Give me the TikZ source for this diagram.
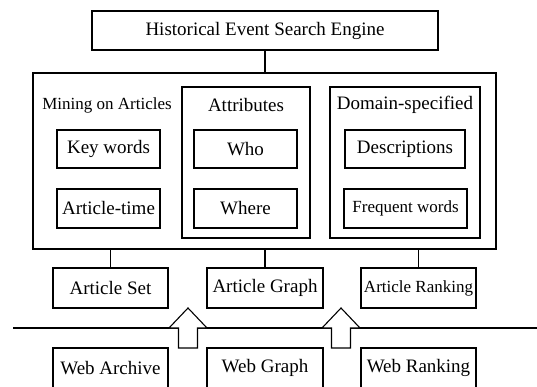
\documentclass[tikz,border=0pt]{standalone}
\usepackage{fontspec}
\setmainfont{Liberation Serif}
\usepackage{tikz}
\usetikzlibrary{calc}

\begin{document}
\begin{tikzpicture}[x=1pt, y=-1pt, line width=1.1pt,
		box/.style={draw, rectangle, inner sep=0pt, font=\fontsize{19}{22}\selectfont},
		smallbox/.style={box, font=\fontsize{17}{20}\selectfont},
		label/.style={inner sep=0pt, font=\fontsize{19}{22}\selectfont}]
			% \draw[very thin, gray, dashed](0, 0)grid[step=20](537, 387);
			\useasboundingbox (0, 0) rectangle (537, 387);
			\clip (0, 0) rectangle (537, 387);

			\node[box, minimum width=346, minimum height=39] (engine) at (265, 30.5) {Historical Event Search Engine};

			\node[draw, rectangle, minimum width=463, minimum height=176] (outer) at (264.5, 161) {};
			\node[draw, rectangle, minimum width=128, minimum height=151] (attr) at (246, 162.5) {};
			\node[draw, rectangle, minimum width=150, minimum height=151] (domain) at (405, 162.5) {};

			\node[label, font=\fontsize{17}{20}\selectfont] (mining) at (107, 105) {Mining on Articles};
			\node[label] (attrlabel) at (246, 105) {Attributes};
			\node[label] (domainlabel) at (405, 105) {Domain-specified};

			\node[box, minimum width=103, minimum height=38] (keywords) at (108.5, 149) {Key words};
			\node[box, minimum width=103, minimum height=38] (who) at (245.5, 149) {Who};
			\node[box, minimum width=120, minimum height=38] (descr) at (405, 149) {Descriptions};
			\node[box, minimum width=103, minimum height=39] (arttime) at (108.5, 208.5) {Article-time};
			\node[box, minimum width=103, minimum height=39] (where) at (245.5, 208.5) {Where};
			\node[smallbox, minimum width=123, minimum height=39] (freq) at (405.5, 208.5) {Frequent words};

			\node[box, minimum width=115, minimum height=40] (artset) at (110.5, 288) {Article Set};
			\node[box, minimum width=116, minimum height=40] (artgraph) at (265, 288) {Article Graph};
			\node[smallbox, minimum width=115, minimum height=40] (artrank) at (418.5, 288) {Article Ranking};

			\node[box, minimum width=115, minimum height=40] (webarch) at (110.5, 368) {Web Archive};
			\node[box, minimum width=116, minimum height=40] (webgraph) at (265, 368) {Web Graph};
			\node[box, minimum width=115, minimum height=40] (webrank) at (418.5, 368) {Web Ranking};

			\draw (engine.south) -- (engine.south |- outer.north);
			\draw (artset.north) -- (artset.north |- outer.south);
			\draw (artgraph.north) -- (artgraph.north |- outer.south);
			\draw (artrank.north) -- (artrank.north |- outer.south);

			\coordinate (lineL) at (13, 328);
			\coordinate (lineR) at (537, 328);
			\draw (lineL) -- (lineR);

			\foreach \x in {188, 341}{
				\draw[fill=white] (\x, 308) -- ($(\x, 328)+(19, 0)$) -- ($(\x, 328)+(9.5, 0)$) -- ($(\x, 348)+(9.5, 0)$)
					-- ($(\x, 348)+(-9.5, 0)$) -- ($(\x, 328)+(-9.5, 0)$) -- ($(\x, 328)+(-19, 0)$) -- cycle;
			}
		\end{tikzpicture}
\end{document}
